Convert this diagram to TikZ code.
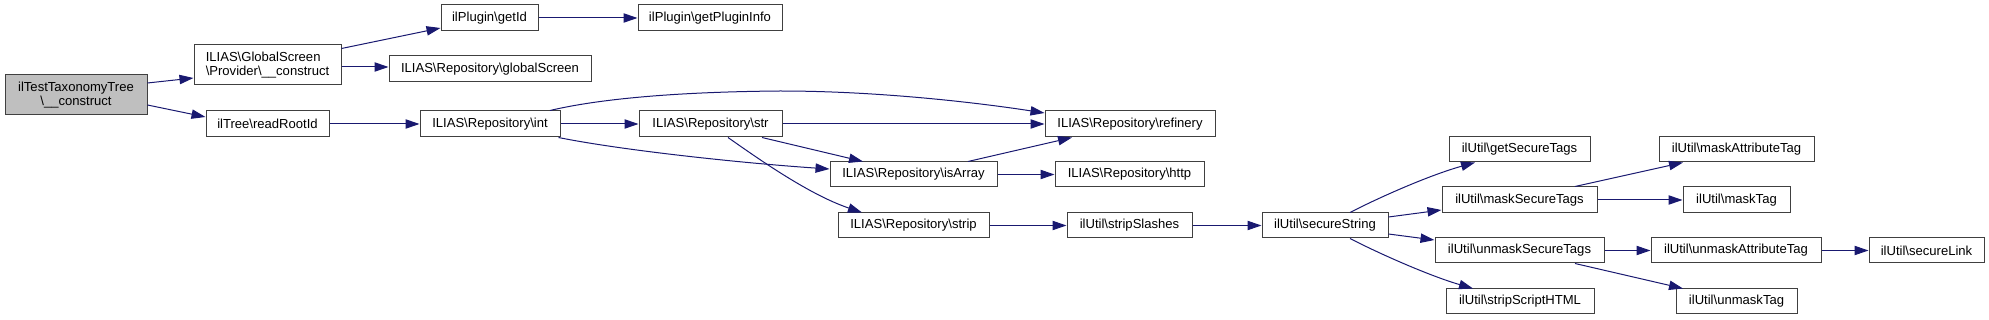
\documentclass[tikz,border=0pt]{standalone}
\usepackage{fontspec}
\setmainfont{Liberation Sans}
\usetikzlibrary{arrows.meta,calc}
\definecolor{edgeblue}{HTML}{191970}
\definecolor{boxgray}{HTML}{404040}
\definecolor{rootfill}{HTML}{BFBFBF}
\newcommand{\bkslash}{\textbackslash}
\newcommand{\bx}[7][]{\node[box,#1, minimum width={(#5-#3)*0.75pt}, minimum height={(#6-#4)*0.75pt}] (#2) at ({(#3+#5)/2},{(#4+#6)/2}) {#7};}
\tikzset{
  box/.style={draw=boxgray, fill=white, line width=0.75pt, inner sep=0pt, font=\fontsize{9.8}{10}\selectfont, text=black},
  edge/.style={draw=edgeblue, line width=0.75pt, -{Triangle[length=10.5pt,width=7pt]}, edgeblue}
}
\begin{document}
\begin{tikzpicture}[x=0.75pt,y=-0.75pt]
\useasboundingbox (0,0) rectangle (1989,320);
% nodes
\bx[fill=rootfill, align=center]{root}{5}{75}{147}{115}{ilTestTaxonomyTree\\\bkslash\_\_construct}
\bx[align=left]{prov}{194}{45}{341}{85}{ILIAS\bkslash GlobalScreen\\\bkslash Provider\bkslash\_\_construct}
\bx{rr}{206}{111}{329}{137}{ilTree\bkslash readRootId}
\bx{gs}{389}{56}{591}{82}{ILIAS\bkslash Repository\bkslash globalScreen}
\bx{gid}{441}{5}{538}{31}{ilPlugin\bkslash getId}
\bx{gpi}{638}{5}{782}{31}{ilPlugin\bkslash getPluginInfo}
\bx{int}{420}{111}{560}{137}{ILIAS\bkslash Repository\bkslash int}
\bx{str}{639}{111}{782}{137}{ILIAS\bkslash Repository\bkslash str}
\bx{ref}{1045}{111}{1215}{137}{ILIAS\bkslash Repository\bkslash refinery}
\bx{isa}{830}{162}{997}{187}{ILIAS\bkslash Repository\bkslash isArray}
\bx{http}{1055}{162}{1204}{187}{ILIAS\bkslash Repository\bkslash http}
\bx{strip}{838}{213}{989}{238}{ILIAS\bkslash Repository\bkslash strip}
\bx{ssl}{1067}{213}{1192}{238}{ilUtil\bkslash stripSlashes}
\bx{ss}{1262}{213}{1388}{238}{ilUtil\bkslash secureString}
\bx{gst}{1449}{137}{1590}{162}{ilUtil\bkslash getSecureTags}
\bx{mst}{1442}{187}{1597}{213}{ilUtil\bkslash maskSecureTags}
\bx{umst}{1435}{238}{1604}{263}{ilUtil\bkslash unmaskSecureTags}
\bx{ssh}{1446}{289}{1594}{314}{ilUtil\bkslash stripScriptHTML}
\bx{mat}{1659}{137}{1814}{162}{ilUtil\bkslash maskAttributeTag}
\bx{mt}{1683}{187}{1790}{213}{ilUtil\bkslash maskTag}
\bx{umat}{1651}{238}{1821}{263}{ilUtil\bkslash unmaskAttributeTag}
\bx{sl}{1869}{238}{1984}{263}{ilUtil\bkslash secureLink}
\bx{umt}{1676}{289}{1797}{314}{ilUtil\bkslash unmaskTag}
% edges
\draw[edge] ($(root.east)+(0,-12)$) -- ($(prov.west)+(0,13)$);
\draw[edge] ($(root.east)+(0,10)$) -- ($(rr.west)+(0,-7)$);
\draw[edge] ($(prov.north east)+(0,4)$) -- ($(gid.west)+(0,10)$);
\draw[edge] ($(prov.east)+(0,2)$) -- ($(gs.west)+(0,-2)$);
\draw[edge] (gid.east) -- (gpi.west);
\draw[edge] (rr.east) -- (int.west);
\draw[edge] (int.east) -- (str.west);
\draw[edge] ($(int.north)+(60,0)$) .. controls (590,101) and (660,92) .. (780,91)
   .. controls (880,91) and (980,103) .. ($(ref.west)+(0,-11)$);
\draw[edge] ($(int.south east)+(-2,0)$) .. controls (620,150) and (740,163) .. ($(isa.west)+(0,-5.5)$);
\draw[edge] (str.east) -- (ref.west);
\draw[edge] ($(str.south)+(51.5,0)$) -- ($(isa.north)+(-50.5,0)$);
\draw[edge] ($(str.south)+(17.5,0)$) .. controls (760,160) and (810,195) .. ($(strip.north)+(-51.5,0)$);
\draw[edge] ($(isa.north)+(54.5,0)$) -- ($(ref.south)+(-58,0)$);
\draw[edge] (isa.east) -- (http.west);
\draw[edge] (strip.east) -- (ssl.west);
\draw[edge] (ssl.east) -- (ss.west);
\draw[edge] ($(ss.north)+(25,0)$) .. controls (1380,197) and (1430,175) .. ($(gst.south)+(-44.5,0)$);
\draw[edge] ($(ss.east)+(0,-8.5)$) -- ($(mst.west)+(0,10)$);
\draw[edge] ($(ss.east)+(0,8.5)$) -- ($(umst.west)+(0,-10.5)$);
\draw[edge] ($(ss.south)+(25,0)$) .. controls (1380,254) and (1430,276) .. ($(ssh.north)+(-47,0)$);
\draw[edge] ($(mst.north)+(55.5,0)$) -- ($(mat.south)+(-53.5,0)$);
\draw[edge] (mst.east) -- (mt.west);
\draw[edge] (umst.east) -- (umat.west);
\draw[edge] ($(umst.south)+(55.5,0)$) -- ($(umt.north)+(-53.5,0)$);
\draw[edge] (umat.east) -- (sl.west);
\end{tikzpicture}
\end{document}
